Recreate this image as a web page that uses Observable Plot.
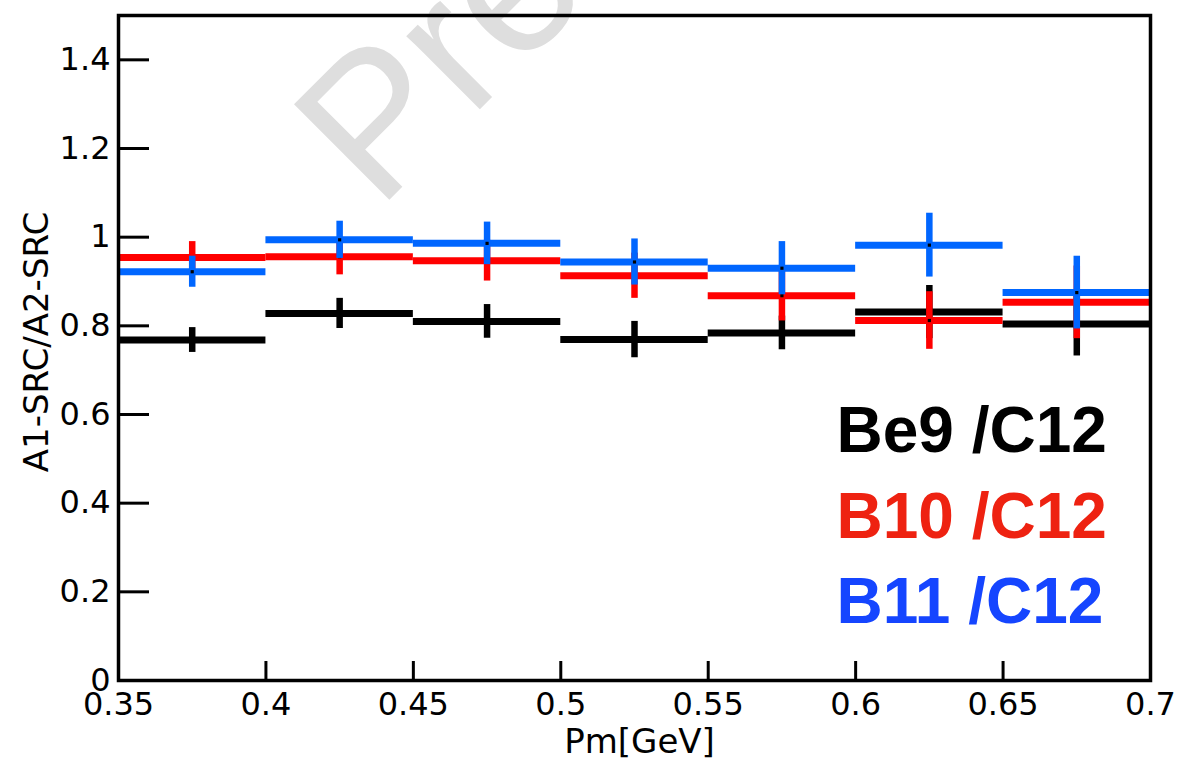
<!DOCTYPE html>
<html>
<head>
<meta charset="utf-8">
<script src="https://cdn.jsdelivr.net/npm/d3@7"></script>
<script src="https://cdn.jsdelivr.net/npm/@observablehq/plot@0.6"></script>
<style>
  html, body { margin: 0; padding: 0; background: #ffffff; }
  #chart { width: 1201px; height: 760px; overflow: hidden; }
</style>
</head>
<body>
<div id="chart"></div>
<script>
// ---- data ----
const binEdges = [0.35, 0.40, 0.45, 0.50, 0.55, 0.60, 0.65, 0.70];
const seriesNames = ["Be9 /C12", "B10 /C12", "B11 /C12"];
const be9    = [0.768, 0.828, 0.810, 0.769, 0.784, 0.831, 0.804];
const be9Err = [0.028, 0.034, 0.038, 0.041, 0.038, 0.060, 0.072];
const b10    = [0.954, 0.956, 0.947, 0.913, 0.868, 0.812, 0.853];
const b10Err = [0.036, 0.041, 0.046, 0.051, 0.057, 0.065, 0.082];
const b11    = [0.922, 0.994, 0.986, 0.944, 0.930, 0.982, 0.875];
const b11Err = [0.035, 0.042, 0.048, 0.052, 0.060, 0.072, 0.082];
const xTicks = [0.35, 0.4, 0.45, 0.5, 0.55, 0.6, 0.65, 0.7];
const yTicks = [0, 0.2, 0.4, 0.6, 0.8, 1, 1.2, 1.4];
const xTitle = "Pm[GeV]";
const yTitle = "A1-SRC/A2-SRC";
const watermarkText = "Preliminary";

// ---- styling ----
const seriesColors = ["#000000", "#ff0000", "#0066ff"];
const legendColors = ["#000000", "#ee2211", "#1545ff"];

const W = 1201, H = 760;
const mL = 118, mR = 51, mT = 15, mB = 80;
const plotW = W - mL - mR, plotH = H - mT - mB;

const values = [be9, b10, b11];
const errors = [be9Err, b10Err, b11Err];
const rows = seriesNames.map((name, s) =>
  values[s].map((v, i) => ({
    series: name, s,
    lo: binEdges[i], hi: binEdges[i + 1],
    mid: (binEdges[i] + binEdges[i + 1]) / 2,
    v, e: errors[s][i]
  }))
);

const seriesMarks = rows.flatMap((data, s) => {
  const m = [
    Plot.ruleY(data, {y: "v", x1: "lo", x2: "hi", stroke: seriesColors[s], strokeWidth: 7}),
    Plot.ruleX(data, {x: "mid", y1: d => d.v - d.e, y2: d => d.v + d.e, stroke: seriesColors[s], strokeWidth: 6.5})
  ];
  if (s > 0) m.push(Plot.dot(data, {x: "mid", y: "v", symbol: "square", r: 1.8, fill: "#000"}));
  return m;
});

const legendMarks = seriesNames.map((name, i) =>
  Plot.text([name], {
    text: d => d, frameAnchor: "top-left", dx: 718, dy: 436.7 + i * 85.5,
    lineAnchor: "bottom", textAnchor: "start",
    fontFamily: "Liberation Sans, Arial, sans-serif", fontWeight: "bold", fontSize: 64,
    fill: legendColors[i]
  })
);

const chart = Plot.plot({
  width: W, height: H,
  marginLeft: mL, marginRight: mR, marginTop: mT, marginBottom: mB,
  style: {fontFamily: "DejaVu Sans, sans-serif", fontSize: "32px", background: "#ffffff", color: "#000"},
  x: {domain: [0.35, 0.7]},
  y: {domain: [0, 1.5]},
  marks: [
    // watermark
    Plot.text([watermarkText], {
      text: d => d, frameAnchor: "top-left", dx: 259.4, dy: 195.6, rotate: -45,
      lineAnchor: "bottom", textAnchor: "start",
      fontFamily: "Liberation Sans, Arial, sans-serif", fontSize: 196, fill: "#dedede"
    }),
    // inward ticks
    Plot.tickY(yTicks, {y: d => d, insetRight: plotW - 31, stroke: "#000", strokeWidth: 3}),
    Plot.tickX(xTicks, {x: d => d, insetTop: plotH - 19, stroke: "#000", strokeWidth: 3}),
    Plot.axisY({ticks: yTicks, tickSize: 0, tickPadding: 8, tickFormat: d => String(d), label: null}),
    Plot.axisX({ticks: xTicks, tickSize: 0, tickPadding: 12, tickFormat: d => String(d), label: null}),
    // axis titles
    Plot.text([xTitle], {text: d => d, frameAnchor: "bottom", dx: 5, dy: 72, lineAnchor: "bottom", textAnchor: "middle", fontSize: 34}),
    Plot.text([yTitle], {text: d => d, frameAnchor: "left", dx: -81, dy: -6, rotate: -90, textAnchor: "middle", fontSize: 34}),
    ...seriesMarks,
    Plot.frame({stroke: "#000", strokeWidth: 3.5}),
    ...legendMarks
  ]
});
document.getElementById("chart").appendChild(chart);
</script>
</body>
</html>
